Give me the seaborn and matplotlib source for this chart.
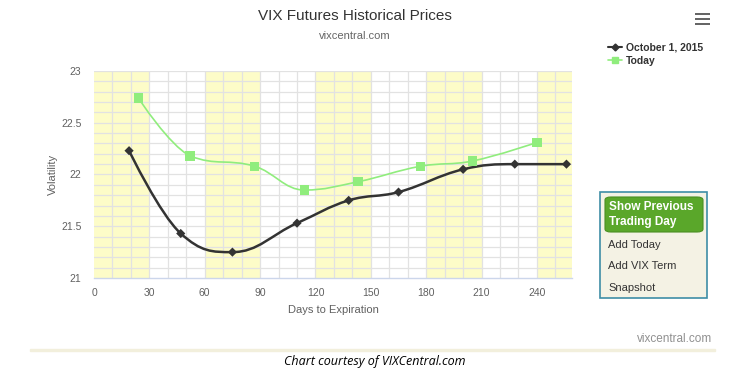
import numpy as np
import matplotlib
matplotlib.use("Agg")
import matplotlib.pyplot as plt
import seaborn as sns
import pandas as pd
from matplotlib.path import Path
from matplotlib.patches import PathPatch, FancyBboxPatch, Rectangle
from matplotlib.lines import Line2D

# data
days_oct = [19, 47, 75, 110, 138, 165, 200, 228, 256]
vol_oct = [22.23, 21.43, 21.25, 21.53, 21.75, 21.83, 22.05, 22.10, 22.10]
days_today = [24, 52, 87, 114, 143, 177, 205, 240]
vol_today = [22.74, 22.18, 22.08, 21.85, 21.93, 22.08, 22.13, 22.31]
xticks = [0, 30, 60, 90, 120, 150, 180, 210, 240]
yticks = [21, 21.5, 22, 22.5, 23]
ytick_labels = ["21", "21.5", "22", "22.5", "23"]
series_names = ["October 1, 2015", "Today"]

sns.set_theme(style="white")
plt.rcParams['font.family'] = ['Liberation Sans', 'DejaVu Sans']

W, H = 737, 375
fig = plt.figure(figsize=(W / 100, H / 100), dpi=100)


def fx(x):
    return x / W


def fy(y):
    return 1 - y / H


ax = fig.add_axes([fx(94), fy(278), fx(572) - fx(94), fy(71) - fy(278)])
ax.set_xlim(0, 259)
ax.set_ylim(21, 23)

# alternating bands
for start in range(0, 260, 60):
    ax.axvspan(start, min(start + 30, 259), color="#fdfcc8", zorder=0, lw=0)

# grid
for gx in range(10, 259, 10):
    ax.axvline(gx, color="#e2e2e2", lw=0.9, zorder=1)
for gy in np.arange(21.1, 23.01, 0.1):
    ax.axhline(gy, color="#e2e2e2", lw=0.9, zorder=1)


def spline_path(xs, ys, smoothing=1.5):
    # highcharts-style spline control points
    n = len(xs)
    denom = smoothing + 1
    left = [None] * n
    right = [None] * n
    for i in range(1, n - 1):
        lx, ly = xs[i - 1], ys[i - 1]
        px, py = xs[i], ys[i]
        nx, ny = xs[i + 1], ys[i + 1]
        lcx = (smoothing * px + lx) / denom
        lcy = (smoothing * py + ly) / denom
        rcx = (smoothing * px + nx) / denom
        rcy = (smoothing * py + ny) / denom
        if rcx != lcx:
            corr = (rcy - lcy) * (rcx - px) / (rcx - lcx) + py - rcy
            lcy += corr
            rcy += corr
        if lcy > ly and lcy > py:
            lcy = max(ly, py)
            rcy = 2 * py - lcy
        elif lcy < ly and lcy < py:
            lcy = min(ly, py)
            rcy = 2 * py - lcy
        if rcy > ny and rcy > py:
            rcy = max(ny, py)
            lcy = 2 * py - rcy
        elif rcy < ny and rcy < py:
            rcy = min(ny, py)
            lcy = 2 * py - rcy
        left[i] = (lcx, lcy)
        right[i] = (rcx, rcy)
    verts = [(xs[0], ys[0])]
    codes = [Path.MOVETO]
    for i in range(1, n):
        c1 = right[i - 1] if right[i - 1] else (xs[i - 1], ys[i - 1])
        c2 = left[i] if left[i] else (xs[i], ys[i])
        verts += [c1, c2, (xs[i], ys[i])]
        codes += [Path.CURVE4] * 3
    return Path(verts, codes)


dark = "#333333"
green = "#90ed7d"

ax.add_patch(PathPatch(spline_path(days_today, vol_today), fill=False,
                       edgecolor=green, lw=1.2, zorder=3))
ax.add_patch(PathPatch(spline_path(days_oct, vol_oct), fill=False,
                       edgecolor=dark, lw=1.8, zorder=4))

df_today = pd.DataFrame({"days": days_today, "vol": vol_today})
df_oct = pd.DataFrame({"days": days_oct, "vol": vol_oct})
sns.scatterplot(data=df_today, x="days", y="vol", marker="s", s=45,
                color=green, edgecolor="none", ax=ax, zorder=5)
sns.scatterplot(data=df_oct, x="days", y="vol", marker="D", s=22,
                color=dark, edgecolor="none", ax=ax, zorder=6)

for side in ["top", "right", "left"]:
    ax.spines[side].set_visible(False)
ax.spines["bottom"].set_color("#ccd6eb")
ax.spines["bottom"].set_linewidth(1)
ax.set_xticks(xticks)
ax.set_yticks(yticks)
ax.set_yticklabels(ytick_labels)
ax.tick_params(axis="x", colors="#ccd6eb", length=5, width=1,
               labelcolor="#606060", labelsize=7.5, pad=2)
ax.tick_params(axis="y", length=0, labelcolor="#606060", labelsize=7.5, pad=9)
ax.set_xlabel("Days to Expiration", color="#606060", fontsize=8)
ax.set_ylabel("Volatility", color="#606060", fontsize=8)
ax.yaxis.set_label_coords((58 - 94) / 478, 0.5)
ax.xaxis.set_label_coords(0.5, -(305 - 278) / 207)

# titles
fig.text(fx(355), fy(16), "VIX Futures Historical Prices", ha="center",
         va="center", fontsize=11, color="#333333")
fig.text(fx(355), fy(36), "vixcentral.com", ha="center", va="center",
         fontsize=8, color="#666666")

# legend
handles = [Line2D([], [], color=dark, lw=1.5, marker="D", markersize=3.5),
           Line2D([], [], color=green, lw=1.2, marker="s", markersize=5)]
leg = fig.legend(handles, series_names, loc="upper left",
                 bbox_to_anchor=(fx(604), fy(38)), frameon=False,
                 prop={"size": 7.5, "weight": "bold"}, handlelength=1.3,
                 handletextpad=0.4, labelspacing=0.35, borderaxespad=0)
for t in leg.get_texts():
    t.set_color("#333333")

# menu icon
for yy in [14, 19, 24]:
    fig.patches.append(Rectangle((fx(695), fy(yy + 1)), fx(15), 2 / H,
                                 transform=fig.transFigure, color="#666666",
                                 lw=0))

# side panel
fig.patches.append(Rectangle((fx(600), fy(298)), fx(107), (298 - 192) / H,
                             transform=fig.transFigure, facecolor="#f4f2e4",
                             edgecolor="#3e8ea6", lw=1.2))
fig.patches.append(FancyBboxPatch((fx(605), fy(232)), fx(98), (232 - 197) / H,
                                  boxstyle="round,pad=0,rounding_size=0.008",
                                  transform=fig.transFigure,
                                  facecolor="#5aa72a", edgecolor="#4a8f22",
                                  lw=0.8))
fig.text(fx(609), fy(214.5), "Show Previous\nTrading Day", ha="left",
         va="center", fontsize=8.5, fontweight="bold", color="white",
         linespacing=1.35)
for label, yy in [("Add Today", 245), ("Add VIX Term", 266), ("Snapshot", 288)]:
    fig.text(fx(608), fy(yy), label, ha="left", va="center", fontsize=8,
             color="#333333")

# credits
fig.text(fx(712), fy(339), "vixcentral.com", ha="right", va="center",
         fontsize=8.5, color="#909090")
fig.patches.append(Rectangle((fx(30), fy(351)), fx(685), 2 / H,
                             transform=fig.transFigure, color="#f2efdc"))
fig.text(fx(375), fy(362), "Chart courtesy of VIXCentral.com", ha="center",
         va="center", fontsize=9, style="italic", color="black",
         family=["Open Sans", "DejaVu Sans"])

fig.savefig("out.png", dpi=100)
